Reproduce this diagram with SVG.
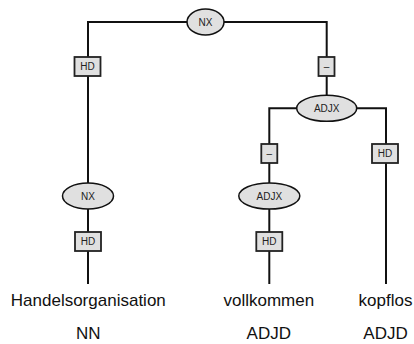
<svg xmlns="http://www.w3.org/2000/svg" width="414" height="344" viewBox="0 0 414 344">
<style>
.e{fill:#e0e0e0;stroke:#111;stroke-width:1.5}
.b{fill:#e0e0e0;stroke:#222;stroke-width:1.8}
.l{fill:none;stroke:#111;stroke-width:2}
.t{font-family:"Liberation Sans",Arial,sans-serif;font-size:10px;fill:#222;text-anchor:middle}
.w{font-family:"Liberation Sans",Arial,sans-serif;font-size:17px;fill:#111;text-anchor:middle}
</style>
<rect width="414" height="344" fill="#fff"/>
<g id="connectors">
<path class="l" d="M88,196 V22 H326.7 V108"/>
<path class="l" d="M269.3,196 V108.3 H386 V284"/>
<path class="l" d="M88,196 V284"/>
<path class="l" d="M269.3,196 V284"/>
</g>
<g id="n-nx-root"><ellipse class="e" cx="205.5" cy="22" rx="18.5" ry="13"/><text class="t" x="205.5" y="25.6">NX</text></g>
<g id="e-hd-1"><rect class="b" x="74.5" y="57" width="26" height="19"/><text class="t" x="87.5" y="70.2">HD</text></g>
<g id="e-dash-1"><rect class="b" x="318.5" y="57" width="16" height="19"/><text class="t" x="326.5" y="70.2">–</text></g>
<g id="n-adjx-1"><ellipse class="e" cx="326.7" cy="108.3" rx="30" ry="13"/><text class="t" x="326.7" y="111.9">ADJX</text></g>
<g id="e-dash-2"><rect class="b" x="261.3" y="144" width="16" height="19"/><text class="t" x="269.3" y="157.2">–</text></g>
<g id="e-hd-2"><rect class="b" x="372" y="144" width="26" height="19"/><text class="t" x="385" y="157.2">HD</text></g>
<g id="n-nx-2"><ellipse class="e" cx="88" cy="196" rx="25.5" ry="13"/><text class="t" x="88" y="199.6">NX</text></g>
<g id="n-adjx-2"><ellipse class="e" cx="269.3" cy="196" rx="30.5" ry="13"/><text class="t" x="269.3" y="199.6">ADJX</text></g>
<g id="e-hd-3"><rect class="b" x="75" y="232" width="26" height="19"/><text class="t" x="88" y="245.2">HD</text></g>
<g id="e-hd-4"><rect class="b" x="256.3" y="232" width="26" height="19"/><text class="t" x="269.3" y="245.2">HD</text></g>
<g id="w-1"><text class="w" x="88.3" y="305.5">Handelsorganisation</text><text class="w" x="88.3" y="339">NN</text></g>
<g id="w-2"><text class="w" x="268.8" y="305.5">vollkommen</text><text class="w" x="268.8" y="339">ADJD</text></g>
<g id="w-3"><text class="w" x="385.5" y="305.5">kopflos</text><text class="w" x="385.5" y="339">ADJD</text></g>
</svg>
